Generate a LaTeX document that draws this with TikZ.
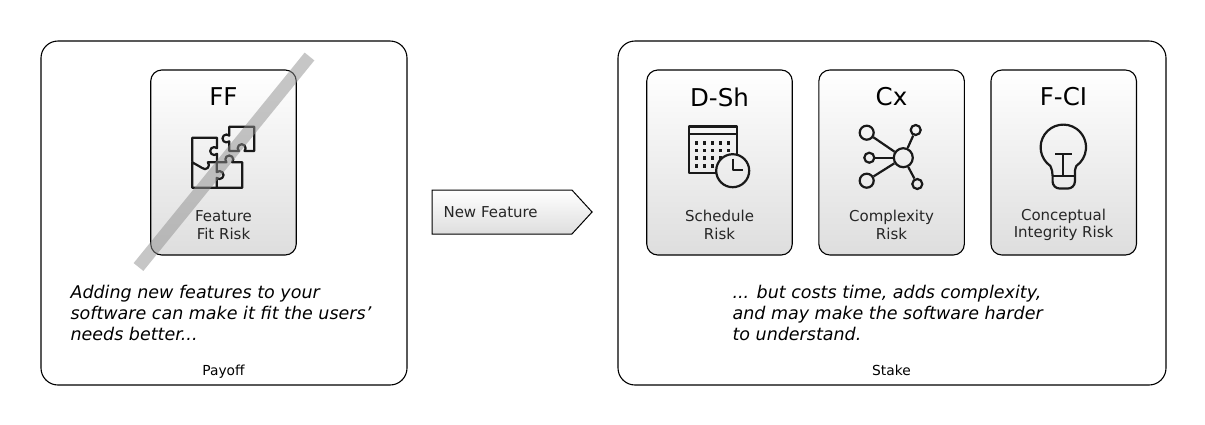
\documentclass[tikz,border=0pt]{standalone}
\usepackage{fontspec}
\setmainfont{DejaVu Sans}
\usetikzlibrary{positioning,shapes.symbols}
\tikzset{
   panel/.style = {draw, line width = 1.1pt, rounded corners = 17pt, fill = white, inner sep = 0pt,
      minimum width = 366pt, minimum height = 344pt},
   riskcard/.style = {draw, line width = 1.1pt, rounded corners = 11pt, top color = white, bottom color = black!13,
      inner sep = 0pt, minimum width = 145.5pt, minimum height = 185pt},
   cardtitle/.style = {font = \fontsize{24.5}{28}\selectfont},
   cardlabel/.style = {font = \fontsize{15}{17.5}\selectfont, align = center, text = black!85},
   panelname/.style = {font = \fontsize{13.8}{15}\selectfont, anchor = base},
   saying/.style = {font = \fontsize{17.5}{20.6}\selectfont\itshape, align = left, anchor = north west},
   icon/.style = {line width = 2.2pt, line join = round, draw = black!90},
   hub/.style = {draw = black!90, line width = 2.2pt, circle, inner sep = 0pt},
}
\begin{document}
\begin{tikzpicture}[x = 1pt, y = -1pt]
   \useasboundingbox (0,0) rectangle (1205,424);
   % the two panels
   \node[panel] (payoff) at (224,213) {};
   \node[panel, minimum width = 548pt] (stake) at (892,213) {};
   \node[panelname] (payoffname) at (223.5,375) {Payoff};
   \node[panelname] (stakename) at (891.5,375) {Stake};
   % the tag between them
   \node[signal, signal to = east, signal pointer angle = 95, draw, line width = 1pt, top color = white, bottom color = black!13,
      inner sep = 0pt, minimum width = 160pt, minimum height = 44pt] (newfeature) at (502,212) {};
   \node[cardlabel, anchor = west] (newfeaturename) at (440,212) {New Feature};
   % cards
   \node[riskcard] (ff) at (223.5,162.5) {};
   \node[riskcard] (dsh) at (719.5,162.5) {};
   \node[riskcard, right = 25.5pt of dsh] (cx) {};
   \node[riskcard, right = 25.5pt of cx] (fci) {};
   \node[cardtitle] (fftitle) at (223.5,97) {FF};
   \node[cardtitle] (dshtitle) at (719.5,97) {D-Sh};
   \node[cardtitle] (cxtitle) at (891.5,97) {Cx};
   \node[cardtitle] (fcititle) at (1063.5,97) {F-CI};
   \node[cardlabel] (fflabel) at (223.5,225) {Feature\\Fit Risk};
   \node[cardlabel] (dshlabel) at (719.5,225) {Schedule\\Risk};
   \node[cardlabel] (cxlabel) at (891.5,225) {Complexity\\Risk};
   \node[cardlabel] (fcilabel) at (1063.5,225) {Conceptual\\Integrity Risk};
   % puzzle
   \draw[icon] (229.3,126.7) -- (254.3,126.7) -- (254.3,151) -- (244.5,151)
      arc[start angle = -45, end angle = 225, radius = 4pt] -- (229.3,151) -- (229.3,141.3)
      arc[start angle = 315, end angle = 45, radius = 4pt] -- cycle;
   \draw[icon] (192.3,161.7) -- (192.3,137.7) -- (217,137.7) -- (217,148.2)
      arc[start angle = 45, end angle = 315, radius = 4pt] -- (217,162.3) -- (207.8,162.3)
      arc[start angle = 45, end angle = -135, radius = 4pt] -- (192.3,162.3) -- (192.3,187.7) -- (242.3,187.7)
      -- (242.3,162.3) -- (232.1,162.3) arc[start angle = -45, end angle = 225, radius = 4pt] -- (217,162.3);
   \draw[icon] (216.7,162.3) -- (216.7,172.2) arc[start angle = 135, end angle = -135, radius = 4pt] -- (216.7,187.7);
   % calendar
   \draw[icon] (716.7,173.3) -- (688.7,173.3) -- (688.7,126.5) -- (737.3,126.5) -- (737.3,155);
   \draw[icon] (688.7,134.3) -- (737.3,134.3);
   \foreach \dotx in {696.7,704.7,712.7,720.7,728.7} {
      \fill[black!90] (\dotx-1.7,141.1) rectangle +(3.4,3.4);
      \fill[black!90] (\dotx-1.7,148.6) rectangle +(3.4,3.4);
   }
   \foreach \dotx in {696.7,704.7,712.7,720.7} \fill[black!90] (\dotx-1.7,156.4) rectangle +(3.4,3.4);
   \foreach \dotx in {696.7,704.7,712.7} \fill[black!90] (\dotx-1.7,164.1) rectangle +(3.4,3.4);
   \node[hub, minimum size = 33pt] (clock) at (732.7,170.7) {};
   \draw[icon] (732.7,158.5) -- (732.7,170.3) -- (742.7,170.3);
   % network
   \node[hub, minimum size = 19pt] (center) at (903.3,157.7) {};
   \node[hub, minimum size = 14pt] (nodea) at (866.7,132.7) {};
   \node[hub, minimum size = 10pt] (nodeb) at (915.7,130) {};
   \node[hub, minimum size = 10pt] (nodec) at (869.3,157.7) {};
   \node[hub, minimum size = 14pt] (noded) at (866.7,180.7) {};
   \node[hub, minimum size = 10pt] (nodee) at (917.3,184) {};
   \draw[icon] (center) -- (nodea);
   \draw[icon] (center) -- (nodeb);
   \draw[icon] (center) -- (nodec);
   \draw[icon] (center) -- (noded);
   \draw[icon] (center) -- (nodee);
   % bulb
   \draw[icon] (1052.6,176) .. controls (1052.6,172) and (1052,170) .. (1050.3,165.9)
      arc[start angle = 235, end angle = -55, radius = 22.7pt]
      .. controls (1074.6,170) and (1074.9,172) .. (1074.9,176)
      [rounded corners = 7pt] -- (1074.9,188.5) -- (1052.6,188.5) [sharp corners] -- cycle;
   \draw[icon] (1055,154) -- (1071.7,154);
   \draw[icon] (1063.3,154) -- (1063.3,175.7);
   \draw[icon] (1052.6,175.7) -- (1074.9,175.7);
   % sayings
   \node[saying] (payoffsaying) at (67,282) {Adding new features to your\\software can make it fit the users'\\needs better...};
   \node[saying] (stakesaying) at (729,282) {... but costs time, adds complexity,\\and may make the software harder\\to understand.};
   % crossed out
   \coordinate (slashstart) at (138.5,267);
   \coordinate (slashend) at (309.5,56.5);
   \draw[black!44, opacity = .5, line width = 12.5pt] (slashstart) -- (slashend);
\end{tikzpicture}
\end{document}
